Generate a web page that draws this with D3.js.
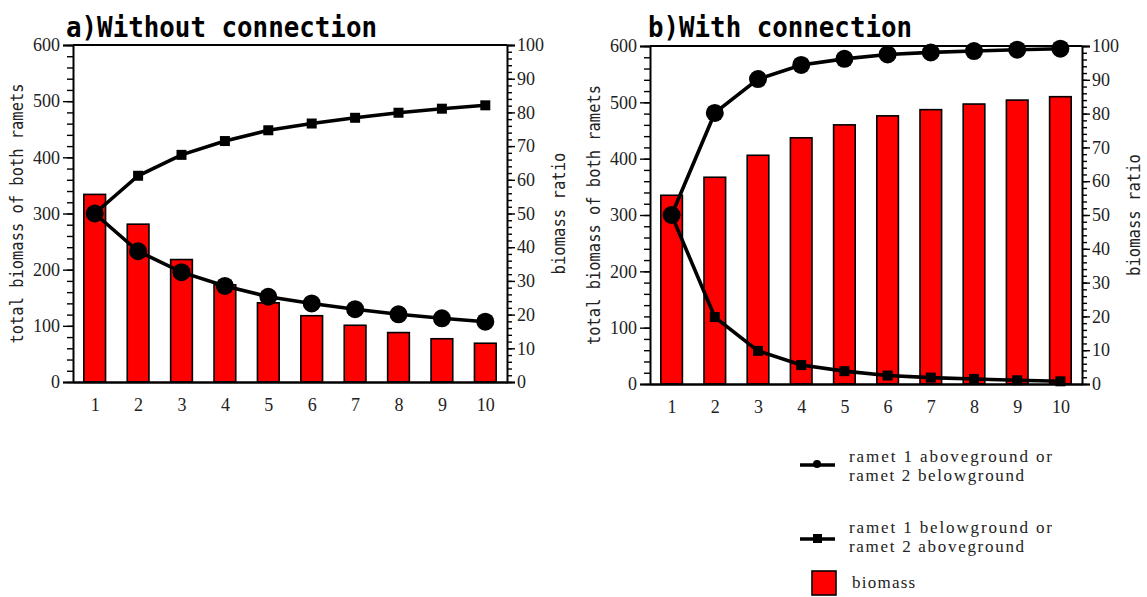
<!DOCTYPE html>
<html>
<head>
<meta charset="utf-8">
<script src="https://cdn.jsdelivr.net/npm/d3@7"></script>
<style>
  html, body { margin: 0; padding: 0; background: #fff; }
  svg { display: block; }
</style>
</head>
<body>
<svg id="chart" width="1147" height="597"></svg>
<script>
// Harvest steps shown on the x axis
const steps = ["1", "2", "3", "4", "5", "6", "7", "8", "9", "10"];

// Panel a: ramets without connection
const biomassA = [334, 281, 218, 173, 141, 118, 101, 88, 77, 69];
const ratioCircleA = [50, 38.8, 32.6, 28.5, 25.3, 23.3, 21.6, 20.1, 18.9, 17.9];
const ratioSquareA = [50, 61.2, 67.4, 71.5, 74.7, 76.7, 78.4, 79.9, 81.1, 82.1];

// Panel b: ramets with connection
const biomassB = [335, 367, 406, 437, 460, 476, 487, 497, 504, 510];
const ratioCircleB = [50, 80.2, 90.2, 94.4, 96.2, 97.5, 98.1, 98.5, 98.9, 99.2];
const ratioSquareB = [50, 19.8, 9.8, 5.6, 3.8, 2.5, 1.9, 1.5, 1.1, 0.8];

// Axis ticks
const biomassTicks = [0, 100, 200, 300, 400, 500, 600];
const ratioTicks = [0, 10, 20, 30, 40, 50, 60, 70, 80, 90, 100];

const titles = ["a)Without connection", "b)With connection"];
const leftTitle = "total biomass of both ramets";
const rightTitle = "biomass ratio";
const legendLabels = [
  ["ramet 1 aboveground or", "ramet 2 belowground"],
  ["ramet 1 belowground or", "ramet 2 aboveground"],
  ["biomass"]
];

const svg = d3.select("#chart");
const serif = "'Liberation Serif', 'DejaVu Serif', serif";
const mono = "'DejaVu Sans Mono', monospace";
const legendFont = "'Liberation Serif', serif";

function drawPanel(box, titleX, title, titleWidth, biomass, circles, squares) {
  const x = d3.scalePoint().domain(steps).range([box.left, box.right]).padding(0.5);
  const step = x.step();
  const yL = d3.scaleLinear().domain([0, 600]).range([box.bottom, box.top]);
  const yR = d3.scaleLinear().domain([0, 100]).range([box.bottom, box.top]);
  const g = svg.append("g");

  // bars
  const bw = step * 0.5;
  g.selectAll("rect.bar").data(biomass).enter().append("rect")
    .attr("class", "bar")
    .attr("x", (d, i) => x(steps[i]) - bw / 2)
    .attr("y", d => yL(d))
    .attr("width", bw)
    .attr("height", d => yL(0) - yL(d))
    .attr("fill", "#ff0000")
    .attr("stroke", "#000")
    .attr("stroke-width", 1.6);

  // frame top line
  g.append("line")
    .attr("x1", box.left).attr("x2", box.right)
    .attr("y1", box.top).attr("y2", box.top)
    .attr("stroke", "#000").attr("stroke-width", 2);

  // left axis: major ticks with labels, minor every 20
  const left = g.append("g").attr("transform", `translate(${box.left},0)`);
  left.call(d3.axisLeft(yL).tickValues(d3.range(0, 601, 20)).tickSize(6).tickFormat(""));
  left.call(g2 => g2.select(".domain").remove());
  const leftMaj = g.append("g").attr("transform", `translate(${box.left},0)`)
    .call(d3.axisLeft(yL).tickValues(biomassTicks).tickSize(10).tickPadding(3));
  leftMaj.select(".domain").attr("stroke-width", 2);
  [left, leftMaj].forEach(a => a.selectAll(".tick line").attr("stroke-width", 1.4));
  leftMaj.selectAll("text").attr("font-family", serif).attr("font-size", 18).attr("fill", "#222");

  // right axis: major every 10, minor every 2
  const right = g.append("g").attr("transform", `translate(${box.right},0)`);
  right.call(d3.axisRight(yR).tickValues(d3.range(0, 101, 2)).tickSize(5).tickFormat(""));
  right.call(g2 => g2.select(".domain").remove());
  const rightMaj = g.append("g").attr("transform", `translate(${box.right},0)`)
    .call(d3.axisRight(yR).tickValues(ratioTicks).tickSize(8).tickPadding(2));
  rightMaj.select(".domain").attr("stroke-width", 2);
  [right, rightMaj].forEach(a => a.selectAll(".tick line").attr("stroke-width", 1.4));
  rightMaj.selectAll("text").attr("font-family", serif).attr("font-size", 18).attr("fill", "#222");

  // bottom axis without ticks
  const bottom = g.append("g").attr("transform", `translate(0,${box.bottom})`)
    .call(d3.axisBottom(x).tickSize(0).tickPadding(16));
  bottom.select(".domain").attr("stroke-width", 2.4);
  bottom.selectAll("text").attr("font-family", serif).attr("font-size", 18).attr("fill", "#222");

  // ratio lines
  const line = d3.line().x((d, i) => x(steps[i])).y(d => yR(d));
  g.append("path").datum(squares).attr("d", line)
    .attr("fill", "none").attr("stroke", "#000").attr("stroke-width", 3.6);
  g.append("path").datum(circles).attr("d", line)
    .attr("fill", "none").attr("stroke", "#000").attr("stroke-width", 3.6);
  const sq = 10;
  g.selectAll("rect.sq").data(squares).enter().append("rect")
    .attr("class", "sq")
    .attr("x", (d, i) => x(steps[i]) - sq / 2)
    .attr("y", d => yR(d) - sq / 2)
    .attr("width", sq).attr("height", sq)
    .attr("fill", "#000");
  g.selectAll("circle.pt").data(circles).enter().append("circle")
    .attr("class", "pt")
    .attr("cx", (d, i) => x(steps[i]))
    .attr("cy", d => yR(d))
    .attr("r", 9)
    .attr("fill", "#000");

  // titles
  g.append("text")
    .attr("x", titleX).attr("y", 37)
    .attr("font-family", mono).attr("font-weight", "bold").attr("font-size", 29)
    .attr("textLength", titleWidth).attr("lengthAdjust", "spacingAndGlyphs")
    .text(title);

  const midY = (box.top + box.bottom) / 2;
  g.append("text")
    .attr("transform", `translate(${box.left - 50},${midY}) rotate(-90)`)
    .attr("text-anchor", "middle")
    .attr("font-family", mono).attr("font-size", 17.5).attr("fill", "#222")
    .attr("textLength", 260).attr("lengthAdjust", "spacingAndGlyphs")
    .text(leftTitle);
  g.append("text")
    .attr("transform", `translate(${box.right + 58},${midY}) rotate(-90)`)
    .attr("text-anchor", "middle")
    .attr("font-family", mono).attr("font-size", 17.5).attr("fill", "#222")
    .attr("textLength", 122).attr("lengthAdjust", "spacingAndGlyphs")
    .text(rightTitle);
}

drawPanel({ left: 73, right: 507, top: 45, bottom: 382 }, 66, titles[0], 311,
  biomassA, ratioCircleA, ratioSquareA);
drawPanel({ left: 650, right: 1082, top: 46, bottom: 384 }, 648, titles[1], 264,
  biomassB, ratioCircleB, ratioSquareB);

// legend
const lg = svg.append("g");
const legendRows = [
  { y: 465, textY: 462, marker: "circle" },
  { y: 539, textY: 533, marker: "square" },
  { y: 583, textY: 588, marker: "bar" }
];
const charW = 9.32; // monospace-like advance for legend text
legendRows.forEach((row, k) => {
  if (row.marker === "bar") {
    lg.append("rect").attr("x", 812).attr("y", row.y - 12).attr("width", 24).attr("height", 24)
      .attr("fill", "#ff0000").attr("stroke", "#000").attr("stroke-width", 1.6);
  } else {
    lg.append("line").attr("x1", 800).attr("x2", 835).attr("y1", row.y).attr("y2", row.y)
      .attr("stroke", "#000").attr("stroke-width", 3.6);
    if (row.marker === "circle") {
      lg.append("circle").attr("cx", 817).attr("cy", row.y - 1).attr("r", 4).attr("fill", "#000");
    } else {
      lg.append("rect").attr("x", 813).attr("y", row.y - 5).attr("width", 9).attr("height", 9).attr("fill", "#000");
    }
  }
  legendLabels[k].forEach((t, j) => {
    lg.append("text").attr("x", row.marker === "bar" ? 852 : 849).attr("y", row.textY + j * 19)
      .attr("font-family", legendFont).attr("font-size", 17).attr("fill", "#222")
      .attr("textLength", t.length * charW - 2).attr("lengthAdjust", "spacing")
      .text(t);
  });
});
</script>
</body>
</html>
